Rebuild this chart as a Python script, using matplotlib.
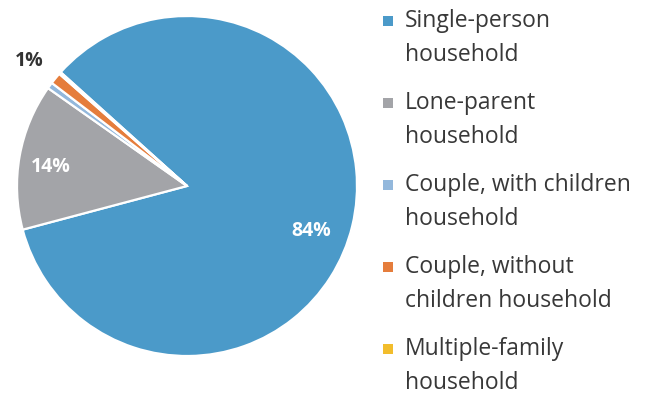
import matplotlib
matplotlib.use("Agg")
import matplotlib.pyplot as plt
from matplotlib.patches import Rectangle

categories = [
    "Single-person\nhousehold",
    "Lone-parent\nhousehold",
    "Couple, with children\nhousehold",
    "Couple, without\nchildren household",
    "Multiple-family\nhousehold",
]
shares = [84.2, 13.9, 0.6, 1.1, 0.2]
colors = ["#4b9ac9", "#a3a4a8", "#93b8dc", "#e57d3c", "#f2bd2c"]

plt.rcParams["font.family"] = ["Open Sans", "DejaVu Sans"]

fig = plt.figure(figsize=(6.52, 3.97), dpi=100)
W, H = 652, 397
cx, cy, r = 187, 186, 170
ax = fig.add_axes([(cx - r) / W, (H - cy - r) / H, 2 * r / W, 2 * r / H])

wedges, _ = ax.pie(
    shares,
    colors=colors,
    startangle=138,
    counterclock=False,
    wedgeprops=dict(edgecolor="white", linewidth=1.6),
)
ax.set_xlim(-1, 1)
ax.set_ylim(-1, 1)
ax.set_aspect("equal")

label_kw = dict(fontsize=14, fontweight="bold", ha="center", va="center")
ax.text(0.73, -0.265, f"{round(shares[0])}%", color="white", **label_kw)
ax.text(-0.80, 0.11, f"{round(shares[1])}%", color="white", **label_kw)
ax.text(-0.93, 0.735, f"{round(shares[3])}%", color="#333333", **label_kw)

# legend drawn as colour squares with two-line labels
first_line_y = 21
entry_step = 82
for i, (name, col) in enumerate(zip(categories, colors)):
    y = first_line_y + i * entry_step
    fig.patches.append(Rectangle((383 / W, 1 - (y + 5) / H), 10 / W, 10 / H,
                                 transform=fig.transFigure, facecolor=col,
                                 edgecolor="none"))
    fig.text(405 / W, 1 - (y - 12) / H, name, fontsize=16.5, color="#383838",
             ha="left", va="top", linespacing=1.58)

fig.savefig("out.png", dpi=100)
